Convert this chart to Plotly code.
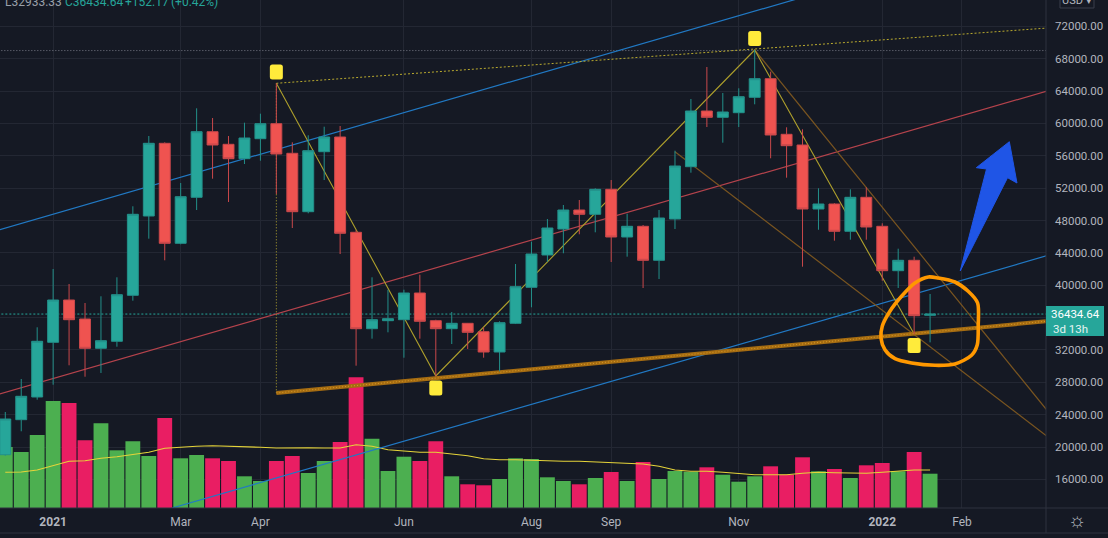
import pandas as pd
import plotly.graph_objects as go

# ---------- data ----------
FIRST_WEEK = "2020-12-14"
OPEN = [19050,23378,26182,32942,38171,35823,32200,33067,38752,48553,57539,45179,50865,58973,57415,55635,58108,59962,56304,49086,56501,58318,46539,
        34623,35615,35737,39036,35615,34623,35290,34253,31744,35290,39741,43734,46947,49295,48763,51854,45958,47280,43077,48183,54647,61531,60752,61321,63225,
        65524,58651,57329,49418,50036,46663,50865,47280,41792,43077,36282.47]
HIGH = [24329,28407,34797,42003,40149,37800,38630,40976,49753,58441,57660,52632,61865,60666,58441,60086,61198,64955,57660,58528,59591,59677,46800,
        40976,39445,39445,41298,35737,36688,35330,34797,35540,42621,45378,48183,49913,50531,51977,52999,48838,47440,49295,56625,63015,66970,63756,64337,69071,
        66390,59517,59270,51977,50125,51854,52100,47650,44512,43525,38912]
LOW = [18900,21943,25848,27701,30100,28690,29150,32400,38085,45748,43077,45056,49295,53164,50284,54980,55388,51273,47070,48887,53003,43857,30051,
       33390,34176,31040,33390,28740,32733,32114,31040,29358,35200,37270,42900,43944,46291,46539,42868,43525,39655,40767,46947,53905,59554,57613,59554,62360,
       55685,53287,42287,46855,45500,45625,45625,40555,39655,33970,32933.33]
CLOSE = [23463,26268,33067,38171,35737,32200,33140,38826,48763,57539,45179,50939,58973,57329,55635,58194,59962,56217,49086,56625,58318,46416,34623,
         35737,35860,39036,35540,34623,35290,34176,31744,35366,39815,43857,47070,49295,48763,51854,45958,47280,43077,48306,54733,61531,60752,61408,63299,65524,
         58565,57242,49418,50036,46663,50865,47194,41792,43077,36231,36434.64]
VOLUME = [61,56,73,107,105,67.7,84.7,57.7,66.7,52,90,49.7,53,49.7,47,31.7,27,47,52,35,47,66,130.7,
          69.3,37,51.3,47,66.7,31.7,23.7,22.7,29,49.7,49,30.7,27,23.7,30,36,27,46,29,37,36.3,40.7,33.3,26.3,31.7,
          41.7,33.3,50.7,36.7,39,30,42.7,45,36.7,56,34.3]
VOLUME_MA = [35.7,36,38,42.7,46.7,47.3,49.7,51.3,53.3,55.7,59.7,61,61.7,62.3,62,61.7,60.7,60,60.3,60.3,60,60,63.3,
             61.7,58.3,57.3,55.7,55.7,54.3,52.3,49.3,48.3,48.3,47.7,47,46.7,46.7,46,45,44.7,44,41.7,38,36.7,36.7,35.7,34.7,33.3,
             33.3,33.3,34.7,35.7,35.3,34.7,34.7,35.7,37,38,38]
PRICE_TICKS = list(range(16000, 76000, 4000))
TIME_TICK_WEEKS = [3, 11, 16, 25, 33, 38, 46, 55, 60]
TIME_TICK_TEXT = ["<b>2021</b>", "Mar", "Apr", "Jun", "Aug", "Sep", "Nov", "<b>2022</b>", "Feb"]
ATH_LEVEL = 69000
LAST_PRICE = 36434.64

UPPER_WEEKS, UPPER_PRICES = [-1, 49.86], [46502, 75498]
MID_WEEKS, MID_PRICES = [-1, 66], [26182, 64374]
LOWER_WEEKS, LOWER_PRICES = [10.46, 66], [12460, 44030]
ZIG_WEEKS, ZIG_PRICES = [17, 27, 47, 57], [64955, 28778, 69071, 33969]
TOPLINE_WEEKS, TOPLINE_PRICES = [17, 66], [64955, 71877]
VERT_WEEKS, VERT_PRICES = [17, 17], [64955, 26676]
SUPPORT_WEEKS, SUPPORT_PRICES = [17, 66], [26676, 35674]
BROWN1_WEEKS, BROWN1_PRICES = [47, 66], [69071, 22918]
BROWN2_WEEKS, BROWN2_PRICES = [42, 66], [56501, 20323]
SQUARE_WEEKS, SQUARE_PRICES = [17, 27, 47, 57], [66352, 27295, 70492, 32548]
CIRCLE_WEEKS = [60.98,60.39,59.56,58.51,57.89,57.05,56.21,55.48,55.0,54.92,55.17,55.8,56.84,58.31,59.56,60.6,60.96,61.02,60.98]
CIRCLE_PRICES = [37800,39246,40396,40890,41014,40272,38628,36775,34920,33474,32028,30916,30384,30100,30261,31336,32646,35118,37800]
ARROW_WEEKS = [62.97,63.45,62.86,59.89,61.54,60.9,62.97]
ARROW_PRICES = [57737,52632,53287,41755,54363,54524,57737]

# ---------- style ----------
BG = "#151924"
GRID = "#232733"
BORDER = "#2f333e"
TEXT = "#b2b5be"
UP, DOWN = "#26a69a", "#ef5350"
W, H, PW, PH = 1108, 538, 1046, 508
ROUNDED = "M-4,-7.5 L4,-7.5 Q6.5,-7.5 6.5,-5 L6.5,5 Q6.5,7.5 4,7.5 L-4,7.5 Q-6.5,7.5 -6.5,5 L-6.5,-5 Q-6.5,-7.5 -4,-7.5 Z"


def wk(values):
    base = pd.Timestamp(FIRST_WEEK)
    return [base + pd.Timedelta(days=7 * v) for v in values]


weeks = list(range(len(CLOSE)))
dates = wk(weeks)
fig = go.Figure()

# layer 1: volume
fig.add_bar(x=dates, y=VOLUME, yaxis="y", hoverinfo="skip",
            marker=dict(color=["#4caf50" if c >= o else "#e91e63" for o, c in zip(OPEN, CLOSE)], line_width=0))
fig.add_scatter(x=dates, y=VOLUME_MA, yaxis="y", mode="lines", hoverinfo="skip",
                line=dict(color="#e5d43a", width=1.1))


def line(w, p, color, width=1.0, dash="solid", yaxis="y2"):
    fig.add_scatter(x=wk(w), y=p, yaxis=yaxis, mode="lines", hoverinfo="skip",
                    line=dict(color=color, width=width, dash=dash))


# layer 2: drawings under the candles
line([-1, 66], [ATH_LEVEL, ATH_LEVEL], "#787b86", 1, "1px,2px")
line([-1, 66], [LAST_PRICE, LAST_PRICE], UP, 1, "2px,2px")
line(UPPER_WEEKS, UPPER_PRICES, "#2179c4", 1.2)
line(MID_WEEKS, MID_PRICES, "#b5434c", 1.2)
line(LOWER_WEEKS, LOWER_PRICES, "#2179c4", 1.2)
line(BROWN1_WEEKS, BROWN1_PRICES, "#7a5520", 1.2)
line(BROWN2_WEEKS, BROWN2_PRICES, "#7a5520", 1.2)
line(ZIG_WEEKS, ZIG_PRICES, "#ad9f2c", 1.1)
line(TOPLINE_WEEKS, TOPLINE_PRICES, "#b8a92e", 1, "2px,2px")
line(VERT_WEEKS, VERT_PRICES, "#b8a92e", 1, "1px,2px")
line(SUPPORT_WEEKS, SUPPORT_PRICES, "#a56c12", 4)
line(SUPPORT_WEEKS, SUPPORT_PRICES, "#d99a25", 1, "1px,2px")

# layer 3: candles
fig.add_candlestick(x=dates, open=OPEN, high=HIGH, low=LOW, close=CLOSE, yaxis="y3", hoverinfo="skip",
                    increasing=dict(line=dict(color="#23908a", width=1), fillcolor=UP),
                    decreasing=dict(line=dict(color="#c9484b", width=1), fillcolor=DOWN))

# layer 4: on top
fig.add_scatter(x=wk(ARROW_WEEKS), y=ARROW_PRICES, yaxis="y4", mode="lines", fill="toself", hoverinfo="skip",
                fillcolor="#1f55e6", line=dict(color="#1f55e6", width=1))
fig.add_scatter(x=wk(CIRCLE_WEEKS), y=CIRCLE_PRICES, yaxis="y4", mode="lines", hoverinfo="skip",
                line=dict(color="#ff9800", width=3.6, shape="spline", smoothing=0.8))

xrange_ = wk([-0.332, 65.27])
price_range = [12462, 75251]
fig.update_layout(
    width=W, height=H, autosize=False, showlegend=False,
    margin=dict(l=0, r=W - PW, t=0, b=H - PH, pad=0),
    paper_bgcolor=BG, plot_bgcolor=BG,
    font=dict(family="Roboto, sans-serif", size=12, color=TEXT),
    bargap=0.07, boxgap=0.02,
    xaxis=dict(type="date", range=xrange_, tickvals=wk(TIME_TICK_WEEKS), ticktext=TIME_TICK_TEXT,
               tickangle=0, showgrid=True, gridcolor=GRID, gridwidth=1, zeroline=False, showline=False,
               rangeslider=dict(visible=False), ticks="", ticklabelstandoff=5,
               tickfont=dict(size=12, color=TEXT)),
    yaxis=dict(range=[0, PH], visible=False, showgrid=False, fixedrange=True),
    yaxis2=dict(overlaying="y", side="right", range=price_range, tickvals=PRICE_TICKS,
                ticktext=[f"{v:.2f}" for v in PRICE_TICKS], showgrid=True, gridcolor=GRID, gridwidth=1,
                zeroline=False, showline=False, ticks="", ticklabelstandoff=8,
                tickfont=dict(size=11.5, color=TEXT)),
    yaxis3=dict(overlaying="y", side="right", range=price_range, visible=False, showgrid=False),
    yaxis4=dict(overlaying="y", side="right", range=price_range, visible=False, showgrid=False),
)

for d, p in zip(wk(SQUARE_WEEKS), SQUARE_PRICES):
    fig.add_shape(type="path", xref="x", yref="y4", xsizemode="pixel", ysizemode="pixel",
                  xanchor=d, yanchor=p, path=ROUNDED, fillcolor="#ffeb3b", line=dict(width=0), layer="above")


def px(x):
    return x / PW


def py(y):
    return (PH - y) / PH


def rule(x0, y0, x1, y1, color=BORDER):
    fig.add_shape(type="line", xref="paper", yref="paper", x0=px(x0), y0=py(y0), x1=px(x1), y1=py(y1),
                  line=dict(color=color, width=1), layer="above")


rule(1046, 0, 1046, 533)
rule(0, 508, W, 508)
rule(0, 533, W, 533)

fig.add_shape(type="rect", xref="paper", yref="paper", x0=px(1060), x1=px(1094), y0=py(8), y1=py(-10),
              line=dict(color="#3a3e4a", width=1), fillcolor=BG, layer="above")
fig.add_shape(type="rect", xref="paper", yref="paper", x0=px(1046), x1=px(1104), y0=py(336), y1=py(306),
              line=dict(width=0), fillcolor=UP, layer="above")


def note(x, y, text, size=12, color=TEXT, xanchor="left"):
    fig.add_annotation(xref="paper", yref="paper", x=px(x), y=py(y), text=text, showarrow=False,
                       xanchor=xanchor, yanchor="middle", font=dict(size=size, color=color), borderpad=0, borderwidth=0)


note(1077, 1, "USD ▾", 11, TEXT, "center")
note(1075.5, 313.5, "36434.64", 11.5, "#ffffff", "center")
note(1070, 328.5, "3d 13h", 11.5, "#e6f4f2", "center")
note(1077, 520, "☼", 20, TEXT, "center")
note(5, 2, "L32933.33", 12, "#9aa0aa")
note(65, 2, "C36434.64", 12, UP)
note(125, 2, "+152.17", 12, UP)
note(171, 2, "(+0.42%)", 12, UP)

fig.write_html("out.html", config=dict(displayModeBar=False),
               post_script="document.body.style.margin='0';document.body.style.overflow='hidden';")
